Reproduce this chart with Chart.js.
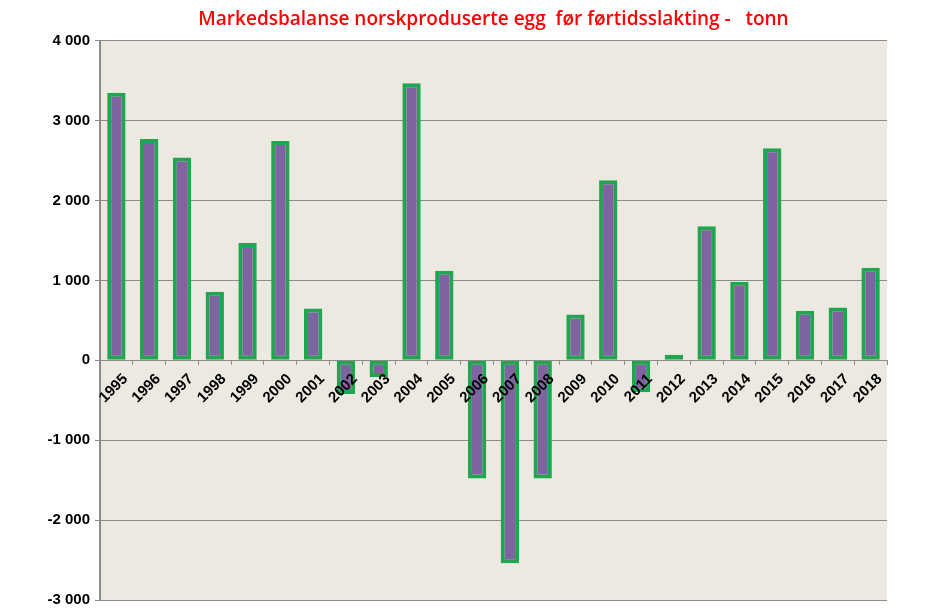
<!DOCTYPE html>
<html>
<head>
<meta charset="utf-8">
<script src="https://cdn.jsdelivr.net/npm/chart.js@4"></script>
<style>
  html, body { margin: 0; padding: 0; background: #fff; }
  #wrap { width: 945px; height: 614px; }
</style>
</head>
<body>
<div id="wrap"><canvas id="chartEgg"></canvas></div>
<script>
// Markedsbalanse, tonn
const years = ['1995', '1996', '1997', '1998', '1999', '2000', '2001', '2002', '2003', '2004', '2005', '2006',
               '2007', '2008', '2009', '2010', '2011', '2012', '2013', '2014', '2015', '2016', '2017', '2018'];
const balance = [3350, 2770, 2540, 860, 1470, 2745, 650, -420, -210, 3470, 1120, -1480,
                 -2540, -1480, 575, 2255, -400, 70, 1680, 985, 2655, 620, 660, 1160];
const yTicks = [-3000, -2000, -1000, 0, 1000, 2000, 3000, 4000];

const colors = {
    fill: '#8064A2',
    edge: '#1FA64E',
    plotBg: '#ECE9E0',
    grid: '#8C8C8C',
    title: '#FF0000'
};

// tusenskille med mellomrom: "4 000", "-1 000"
function fmt(v) {
    const s = String(Math.abs(v)).replace(/\B(?=(\d{3})+(?!\d))/g, ' ');
    return (v < 0 ? '-' : '') + s;
}

// fyller plottområdet
const plotBackground = {
    id: 'plotBackground',
    beforeDraw(chart) {
        const { ctx, chartArea: a } = chart;
        ctx.save();
        ctx.fillStyle = colors.plotBg;
        ctx.fillRect(a.left, a.top, a.right - a.left, a.bottom - a.top);
        ctx.restore();
    }
};

const labelFont = { family: 'Liberation Sans, Arial', size: 15, weight: 'bold' };

const ctx = document.getElementById('chartEgg').getContext('2d');
new Chart(ctx, {
    type: 'bar',
    data: {
        labels: years,
        datasets: [{
            data: balance,
            backgroundColor: colors.fill,
            borderColor: colors.edge,
            borderWidth: 4,
            borderSkipped: false,
            barPercentage: 0.56,
            categoryPercentage: 1
        }]
    },
    options: {
        responsive: true,
        maintainAspectRatio: false,
        animation: false,
        layout: { padding: { left: 0, right: 58, top: 0, bottom: 13 } },
        plugins: {
            legend: { display: false },
            tooltip: { enabled: false },
            title: {
                display: true,
                fullSize: false,
                text: 'Markedsbalanse norskproduserte egg  før førtidsslakting -   tonn',
                color: colors.title,
                font: { family: '"Open Sans", sans-serif', size: 19, weight: '600' },
                padding: { top: 8, bottom: 10 }
            }
        },
        scales: {
            x: {
                position: { y: 0 },
                grid: { display: true, drawOnChartArea: false, offset: true, tickLength: 4, color: colors.grid },
                border: { color: colors.grid, width: 1 },
                ticks: {
                    z: 1, // tekst over søylene
                    color: '#000',
                    font: labelFont,
                    minRotation: 45,
                    maxRotation: 45,
                    padding: 6,
                    labelOffset: 9
                }
            },
            y: {
                min: -3000,
                max: 4000,
                afterBuildTicks: s => { s.ticks = yTicks.map(v => ({ value: v })); },
                afterFit: s => { s.width = 100; },
                grid: { color: colors.grid, lineWidth: 1, tickLength: 5 },
                border: { color: colors.grid, width: 2 },
                ticks: {
                    color: '#000',
                    font: labelFont,
                    padding: 5,
                    callback: v => fmt(v)
                }
            }
        }
    },
    plugins: [plotBackground]
});
</script>
</body>
</html>
